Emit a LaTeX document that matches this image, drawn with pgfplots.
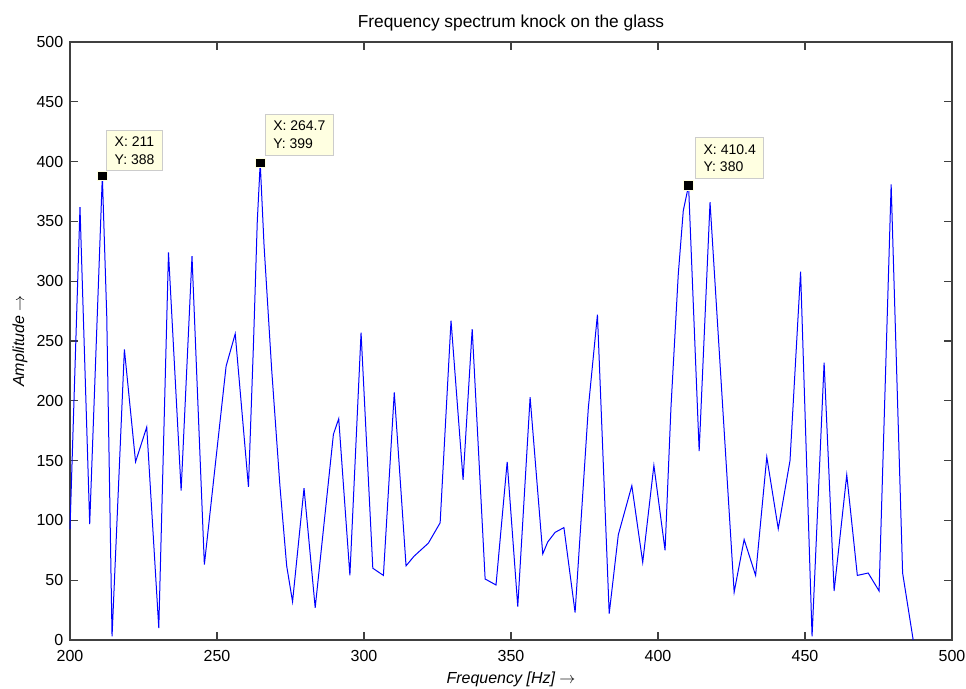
\documentclass[border=0pt]{standalone}
\usepackage{fontspec}
\setmainfont{Liberation Sans}
\usepackage{pgfplots}
\pgfplotsset{compat=1.18}
\usetikzlibrary{calc}
\definecolor{tipfill}{RGB}{255,255,225}
\begin{document}
\begin{tikzpicture}
\begin{axis}[
  name=ax,
  width=661.5pt, height=448.5pt,
  scale only axis,
  xmin=200, xmax=500, ymin=0, ymax=500,
  xtick={200,250,...,500}, ytick={0,50,...,500},
  tick align=inside,
  major tick length=6pt,
  axis line style={draw=black!75, line width=0.8pt},
  every tick/.style={black!75, line width=0.8pt},
  /pgf/number format/assume math mode=true,
  ticklabel style={font=\fontsize{12}{14}\selectfont},
  xticklabel style={yshift=-4.5pt},
  yticklabel style={xshift=-1.5pt},
  title={Frequency spectrum knock on the glass},
  title style={font=\fontsize{13}{15}\selectfont, yshift=-1.5pt},
  xlabel={\itshape Frequency [Hz] $\rightarrow$},
  ylabel={\itshape Amplitude $\rightarrow$},
  label style={font=\fontsize{12}{14}\selectfont},
  xlabel style={yshift=-0.5pt},
  ylabel style={yshift=0pt},
  clip=false,
]
\addplot[color={rgb,255:red,0;green,0;blue,255}, line width=0.75pt] coordinates {
(200,93) (203.4,362) (206.7,97) (211,388) (212.5,271) (214.3,3) (218.5,243)
(222.3,149) (226.1,178) (230.2,10) (233.5,324) (237.8,125) (241.5,321)
(245.7,63) (253.1,229) (256.2,256) (260.7,128) (262.4,247) (263.7,350)
(264.7,399) (266,330) (268.6,226) (271.4,129) (273.7,62) (275.7,32)
(279.6,127) (283.4,27) (289.6,172) (291.4,185) (295.2,54) (299,257)
(303,60) (306.6,54) (310.3,207) (314.3,62) (317,70) (321.9,81) (325.9,98)
(329.6,267) (333.7,134) (336.8,260) (341.2,51) (344.9,46) (348.7,149)
(352.3,28) (356.5,203) (360.8,72) (362.5,82) (365,90) (368,94) (371.8,23)
(376.3,194) (379.4,272) (383.4,22) (386.5,88) (391.1,129) (394.8,65)
(398.6,146) (402.4,75) (404.4,194) (406.9,306) (408.6,359) (410.4,380)
(414,158) (417.7,366) (425.9,40) (429.3,84) (433.2,54) (437,153)
(440.9,93) (444.9,150) (448.5,308) (452.4,3) (456.5,232) (459.9,41)
(464.2,138) (467.8,54) (471.5,56) (475.2,41) (479.3,381) (483.2,56)
(486.8,0)
};
\addplot[only marks, mark=square*, mark size=3.6pt, mark options={fill=black, draw=tipfill, line width=0.6pt}] coordinates {
(211,388) (264.7,399) (410.4,380)
};
\tikzset{tip/.style={anchor=south west, fill=tipfill, draw=black!20, line width=0.6pt,
  font=\fontsize{10.5}{13}\selectfont, align=left, inner xsep=6pt, inner ysep=5pt}}
\node[tip, xshift=3pt, yshift=3.5pt] at (axis cs:211,388) {X: 211\\Y: 388};
\node[tip, xshift=3.5pt, yshift=5.5pt] at (axis cs:264.7,399) {X: 264.7\\Y: 399};
\node[tip, xshift=5pt, yshift=5pt] at (axis cs:410.4,380) {X: 410.4\\Y: 380};
\end{axis}
\pgfresetboundingbox
\path[use as bounding box] ($(ax.south west)+(-52.5pt,-36pt)$) rectangle ($(ax.north east)+(10.5pt,31.5pt)$);
\end{tikzpicture}
\end{document}
